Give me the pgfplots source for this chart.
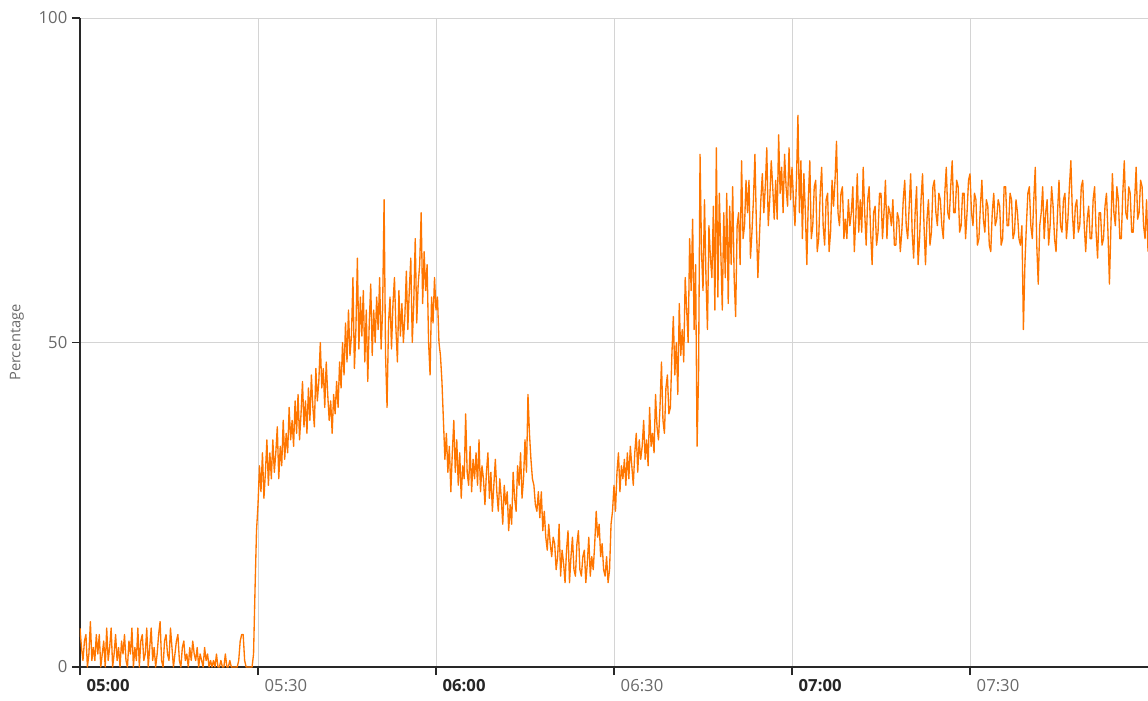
\documentclass[border=0pt]{standalone}
\usepackage{pgfplots}
\pgfplotsset{compat=1.18}
\usepackage{fontspec}
\setmainfont{Open Sans}
\definecolor{lineorange}{RGB}{255,118,0}
\definecolor{gridgray}{RGB}{212,212,212}
\definecolor{labgray}{RGB}{105,105,105}
\definecolor{axisdark}{RGB}{40,40,40}
\begin{document}
\begin{tikzpicture}
\useasboundingbox (-60pt,-24.75pt) rectangle (801pt,500.25pt);
\begin{axis}[
  scale only axis, width=801pt, height=486.75pt,
  xmin=0, xmax=180, ymin=0, ymax=100,
  axis x line*=bottom, axis y line*=left,
  axis line style={-, axisdark},
  x axis line style={line width=1.5pt},
  y axis line style={line width=1pt},
  xtick={0,30,60,90,120,150},
  xticklabels={{\textbf{05:00}},{\color{labgray}05:30},{\textbf{06:00}},{\color{labgray}06:30},{\textbf{07:00}},{\color{labgray}07:30}},
  ytick={0,50,100},
  grid=major, major grid style={gridgray, line width=0.6pt},
  tick align=outside, major tick length=6pt, tick style={axisdark, line width=0.8pt},
  x tick label style={anchor=north west, xshift=1.5pt, font=\fontsize{12.5}{14}\selectfont, text=black!85},
  y tick label style={font=\fontsize{12.5}{14}\selectfont, text=labgray},
  /pgf/number format/assume math mode=true,
  ylabel={Percentage},
  ylabel style={at={(axis description cs:-0.059,0.5)}, anchor=center, font=\fontsize{11}{13}\selectfont, text=labgray},
]
\addplot[lineorange, line width=1pt, line join=round] coordinates {
(0,6)(0.25,3)(0.5,1)(0.75,4)(1,5)(1.25,0)(1.5,2)(1.75,7)(2,1)(2.25,3)
(2.5,1)(2.75,5)(3,2)(3.25,5)(3.5,0)(3.75,2)(4,4)(4.25,0)(4.5,6)(4.75,1)
(5,3)(5.25,6)(5.5,0)(5.75,2)(6,5)(6.25,1)(6.5,3)(6.75,0)(7,4)(7.25,2)
(7.5,5)(7.75,1)(8,0)(8.25,4)(8.5,2)(8.75,6)(9,0)(9.25,3)(9.5,1)(9.75,6)
(10,0)(10.25,4)(10.5,5)(10.75,1)(11,2)(11.25,6)(11.5,0)(11.75,3)(12,6)(12.25,1)
(12.5,3)(12.75,0)(13,2)(13.25,5)(13.5,7)(13.75,1)(14,0)(14.25,4)(14.5,5)(14.75,2)
(15,1)(15.25,6)(15.5,3)(15.75,0)(16,2)(16.25,4)(16.5,5)(16.75,1)(17,0)(17.25,3)
(17.5,4)(17.75,1)(18,2)(18.25,0)(18.5,3)(18.75,1)(19,4)(19.25,2)(19.5,1)(19.75,3)
(20,0)(20.25,2)(20.5,1)(20.75,0)(21,3)(21.25,1)(21.5,2)(21.75,0)(22,1)(22.25,0)
(22.5,1)(22.75,0)(23,2)(23.25,0)(23.5,0)(23.75,1)(24,0)(24.25,0)(24.5,2)(24.75,0)
(25,0)(25.25,1)(25.5,0)(25.75,0)(26,0)(26.25,0)(26.5,0)(26.75,1)(27,4)(27.25,5)
(27.5,5)(27.75,1)(28,0)(28.25,0)(28.5,0)(28.75,0)(29,0)(29.25,2)(29.5,12)(29.75,21)
(30,25)(30.25,31)(30.5,27)(30.75,33)(31,26)(31.25,30)(31.5,35)(31.75,28)(32,33)(32.25,29)
(32.5,35)(32.75,30)(33,33)(33.25,37)(33.5,29)(33.75,34)(34,31)(34.25,38)(34.5,32)(34.75,36)
(35,33)(35.25,40)(35.5,35)(35.75,38)(36,34)(36.25,41)(36.5,36)(36.75,42)(37,35)(37.25,39)
(37.5,44)(37.75,37)(38,41)(38.25,36)(38.5,43)(38.75,38)(39,45)(39.25,40)(39.5,37)(39.75,46)
(40,41)(40.25,44)(40.5,50)(40.75,43)(41,46)(41.25,40)(41.5,47)(41.75,42)(42,38)(42.25,41)
(42.5,36)(42.75,42)(43,39)(43.25,44)(43.5,40)(43.75,47)(44,43)(44.25,50)(44.5,45)(44.75,53)
(45,47)(45.25,55)(45.5,48)(45.75,51)(46,60)(46.25,46)(46.5,52)(46.75,63)(47,49)(47.25,57)
(47.5,51)(47.75,58)(48,47)(48.25,55)(48.5,44)(48.75,53)(49,59)(49.25,48)(49.5,55)(49.75,50)
(50,57)(50.25,52)(50.5,60)(50.75,49)(51,55)(51.25,72)(51.5,48)(51.75,40)(52,53)(52.25,57)
(52.5,49)(52.75,56)(53,60)(53.25,52)(53.5,47)(53.75,58)(54,51)(54.25,56)(54.5,50)(54.75,54)
(55,61)(55.25,52)(55.5,58)(55.75,63)(56,50)(56.25,56)(56.5,66)(56.75,53)(57,59)(57.25,62)
(57.5,70)(57.75,56)(58,64)(58.25,58)(58.5,62)(58.75,50)(59,45)(59.25,57)(59.5,53)(59.75,60)
(60,55)(60.25,57)(60.5,50)(60.75,48)(61,44)(61.25,38)(61.5,32)(61.75,36)(62,30)(62.25,34)
(62.5,27)(62.75,33)(63,38)(63.25,30)(63.5,35)(63.75,28)(64,33)(64.25,26)(64.5,31)(64.75,29)
(65,39)(65.25,30)(65.5,28)(65.75,34)(66,27)(66.25,32)(66.5,29)(66.75,33)(67,28)(67.25,35)
(67.5,27)(67.75,31)(68,29)(68.25,25)(68.5,30)(68.75,33)(69,26)(69.25,30)(69.5,24)(69.75,28)
(70,32)(70.25,27)(70.5,24)(70.75,29)(71,26)(71.25,22)(71.5,28)(71.75,25)(72,27)(72.25,21)
(72.5,25)(72.75,22)(73,30)(73.25,26)(73.5,24)(73.75,31)(74,28)(74.25,33)(74.5,26)(74.75,29)
(75,35)(75.25,30)(75.5,42)(75.75,36)(76,32)(76.25,29)(76.5,28)(76.75,25)(77,24)(77.25,27)
(77.5,23)(77.75,27)(78,21)(78.25,24)(78.5,20)(78.75,18)(79,22)(79.25,19)(79.5,17)(79.75,20)
(80,19)(80.25,15)(80.5,17)(80.75,22)(81,14)(81.25,18)(81.5,16)(81.75,13)(82,18)(82.25,21)
(82.5,13)(82.75,17)(83,20)(83.25,15)(83.5,14)(83.75,19)(84,21)(84.25,15)(84.5,14)(84.75,17)
(85,18)(85.25,13)(85.5,16)(85.75,20)(86,14)(86.25,17)(86.5,15)(86.75,19)(87,24)(87.25,20)
(87.5,22)(87.75,17)(88,19)(88.25,15)(88.5,14)(88.75,17)(89,13)(89.25,15)(89.5,22)(89.75,24)
(90,28)(90.25,24)(90.5,30)(90.75,33)(91,27)(91.25,31)(91.5,29)(91.75,32)(92,28)(92.25,33)
(92.5,29)(92.75,34)(93,31)(93.25,28)(93.5,33)(93.75,36)(94,30)(94.25,35)(94.5,32)(94.75,34)
(95,38)(95.25,32)(95.5,35)(95.75,31)(96,40)(96.25,34)(96.5,36)(96.75,33)(97,42)(97.25,37)
(97.5,35)(97.75,40)(98,47)(98.25,38)(98.5,36)(98.75,43)(99,45)(99.25,39)(99.5,40)(99.75,48)
(100,54)(100.25,45)(100.5,50)(100.75,42)(101,56)(101.25,48)(101.5,52)(101.75,47)(102,60)(102.25,55)
(102.5,50)(102.75,66)(103,58)(103.25,69)(103.5,52)(103.75,62)(104,34)(104.25,45)(104.5,79)(104.75,64)
(105,58)(105.25,72)(105.5,60)(105.75,52)(106,68)(106.25,63)(106.5,60)(106.75,71)(107,55)(107.25,80)
(107.5,57)(107.75,73)(108,64)(108.25,55)(108.5,70)(108.75,60)(109,73)(109.25,56)(109.5,71)(109.75,62)
(110,74)(110.25,60)(110.5,54)(110.75,68)(111,70)(111.25,62)(111.5,78)(111.75,66)(112,68)(112.25,75)
(112.5,70)(112.75,75)(113,63)(113.25,67)(113.5,72)(113.75,79)(114,68)(114.25,60)(114.5,66)(114.75,72)
(115,76)(115.25,70)(115.5,74)(115.75,80)(116,68)(116.25,72)(116.5,78)(116.75,74)(117,69)(117.25,75)
(117.5,69)(117.75,82)(118,73)(118.25,77)(118.5,70)(118.75,79)(119,74)(119.25,71)(119.5,80)(119.75,72)
(120,77)(120.25,72)(120.5,68)(120.75,75)(121,85)(121.25,70)(121.5,78)(121.75,66)(122,76)(122.25,70)
(122.5,62)(122.75,72)(123,78)(123.25,66)(123.5,68)(123.75,74)(124,75)(124.25,64)(124.5,66)(124.75,73)
(125,77)(125.25,68)(125.5,65)(125.75,72)(126,73)(126.25,64)(126.5,67)(126.75,75)(127,71)(127.25,75)
(127.5,81)(127.75,70)(128,68)(128.25,73)(128.5,74)(128.75,66)(129,69)(129.25,66)(129.5,72)(129.75,68)
(130,70)(130.25,74)(130.5,64)(130.75,69)(131,76)(131.25,67)(131.5,72)(131.75,67)(132,77)(132.25,70)
(132.5,65)(132.75,72)(133,74)(133.25,67)(133.5,62)(133.75,70)(134,71)(134.25,65)(134.5,67)(134.75,73)
(135,73)(135.25,66)(135.5,70)(135.75,75)(136,66)(136.25,71)(136.5,70)(136.75,68)(137,72)(137.25,65)
(137.5,65)(137.75,70)(138,69)(138.25,64)(138.5,67)(138.75,72)(139,75)(139.25,68)(139.5,66)(139.75,71)
(140,76)(140.25,67)(140.5,63)(140.75,70)(141,74)(141.25,62)(141.5,66)(141.75,72)(142,76)(142.25,68)
(142.5,62)(142.75,69)(143,72)(143.25,65)(143.5,67)(143.75,74)(144,75)(144.25,70)(144.5,68)(144.75,73)
(145,72)(145.25,68)(145.5,66)(145.75,73)(146,77)(146.25,70)(146.5,69)(146.75,74)(147,78)(147.25,70)
(147.5,70)(147.75,75)(148,74)(148.25,67)(148.5,68)(148.75,73)(149,73)(149.25,66)(149.5,70)(149.75,75)
(150,76)(150.25,70)(150.5,68)(150.75,73)(151,72)(151.25,65)(151.5,66)(151.75,71)(152,75)(152.25,69)
(152.5,67)(152.75,72)(153,71)(153.25,65)(153.5,64)(153.75,70)(154,73)(154.25,68)(154.5,69)(154.75,72)
(155,71)(155.25,65)(155.5,66)(155.75,74)(156,74)(156.25,68)(156.5,68)(156.75,73)(157,72)(157.25,66)
(157.5,67)(157.75,72)(158,70)(158.25,66)(158.5,65)(158.75,68)(159,52)(159.25,62)(159.5,68)(159.75,73)
(160,74)(160.25,68)(160.5,66)(160.75,72)(161,77)(161.25,65)(161.5,59)(161.75,68)(162,70)(162.25,74)
(162.5,66)(162.75,70)(163,72)(163.25,65)(163.5,68)(163.75,74)(164,71)(164.25,66)(164.5,64)(164.75,70)
(165,75)(165.25,68)(165.5,67)(165.75,72)(166,73)(166.25,66)(166.5,69)(166.75,74)(167,78)(167.25,70)
(167.5,66)(167.75,71)(168,72)(168.25,67)(168.5,68)(168.75,74)(169,75)(169.25,68)(169.5,64)(169.75,69)
(170,71)(170.25,66)(170.5,66)(170.75,72)(171,74)(171.25,67)(171.5,63)(171.75,70)(172,70)(172.25,65)
(172.5,66)(172.75,71)(173,73)(173.25,67)(173.5,59)(173.75,68)(174,76)(174.25,70)(174.5,68)(174.75,74)
(175,72)(175.25,66)(175.5,66)(175.75,73)(176,78)(176.25,70)(176.5,69)(176.75,74)(177,73)(177.25,67)
(177.5,67)(177.75,72)(178,77)(178.25,69)(178.5,70)(178.75,75)(179,74)(179.25,68)(179.5,66)(179.75,72)
(180,64)
};
\end{axis}
\end{tikzpicture}
\end{document}
